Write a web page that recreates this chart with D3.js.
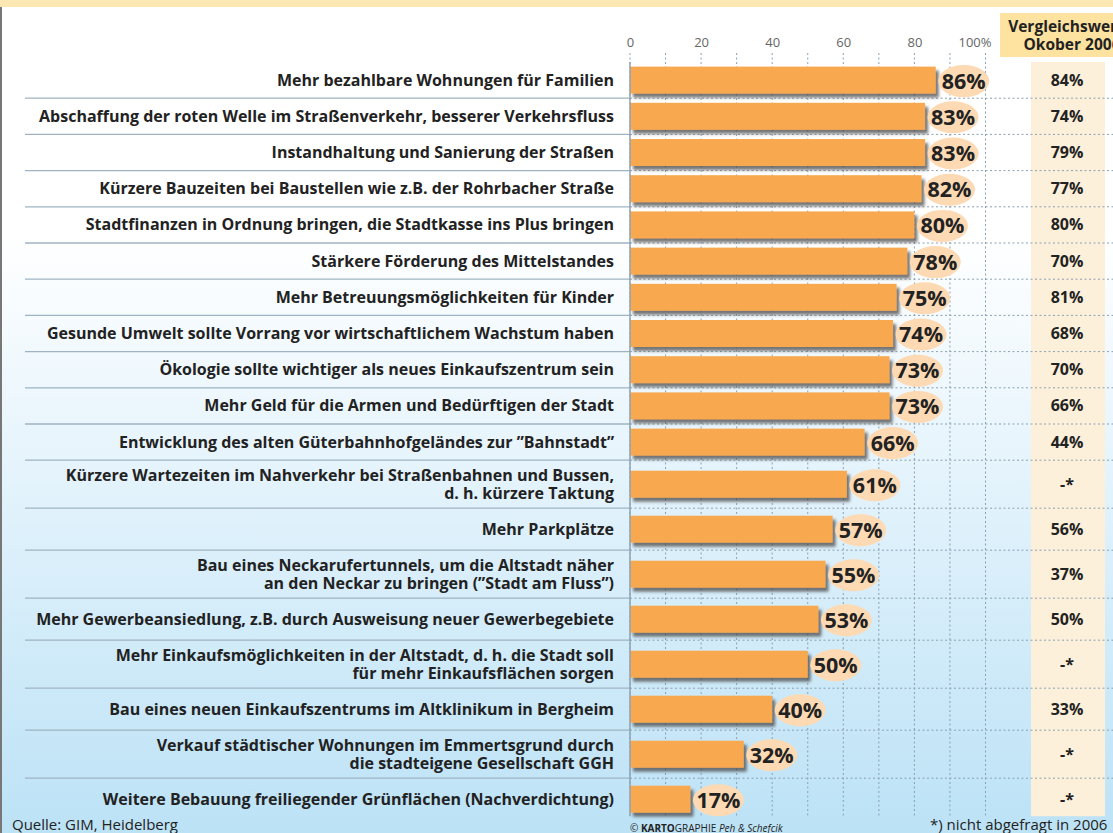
<!DOCTYPE html>
<html>
<head>
<meta charset="utf-8">
<script src="https://cdn.jsdelivr.net/npm/d3@7"></script>
<style>
  body { margin: 0; background: #fff; }
  svg { display: block; font-family: "Open Sans", "Noto Sans", sans-serif; }
</style>
</head>
<body>
<svg id="chart" width="1113" height="833"></svg>
<script>
// survey items (top to bottom), two-line items split with "|"
const items = [
  "Mehr bezahlbare Wohnungen für Familien",
  "Abschaffung der roten Welle im Straßenverkehr, besserer Verkehrsfluss",
  "Instandhaltung und Sanierung der Straßen",
  "Kürzere Bauzeiten bei Baustellen wie z.B. der Rohrbacher Straße",
  "Stadtfinanzen in Ordnung bringen, die Stadtkasse ins Plus bringen",
  "Stärkere Förderung des Mittelstandes",
  "Mehr Betreuungsmöglichkeiten für Kinder",
  "Gesunde Umwelt sollte Vorrang vor wirtschaftlichem Wachstum haben",
  "Ökologie sollte wichtiger als neues Einkaufszentrum sein",
  "Mehr Geld für die Armen und Bedürftigen der Stadt",
  "Entwicklung des alten Güterbahnhofgeländes zur \u201DBahnstadt\u201D",
  "Kürzere Wartezeiten im Nahverkehr bei Straßenbahnen und Bussen,|d. h. kürzere Taktung",
  "Mehr Parkplätze",
  "Bau eines Neckarufertunnels, um die Altstadt näher|an den Neckar zu bringen (\u201DStadt am Fluss\u201D)",
  "Mehr Gewerbeansiedlung, z.B. durch Ausweisung neuer Gewerbegebiete",
  "Mehr Einkaufsmöglichkeiten in der Altstadt, d. h. die Stadt soll|für mehr Einkaufsflächen sorgen",
  "Bau eines neuen Einkaufszentrums im Altklinikum in Bergheim",
  "Verkauf städtischer Wohnungen im Emmertsgrund durch|die stadteigene Gesellschaft GGH",
  "Weitere Bebauung freiliegender Grünflächen (Nachverdichtung)"
];
const values2008 = [86, 83, 83, 82, 80, 78, 75, 74, 73, 73, 66, 61, 57, 55, 53, 50, 40, 32, 17];
// null = not asked in 2006
const values2006 = [84, 74, 79, 77, 80, 70, 81, 68, 70, 66, 44, null, 56, 37, 50, null, 33, null, null];
const xTicks = [0, 20, 40, 60, 80, 100];
const gridTicks = d3.range(0, 101, 10);

const svg = d3.select("#chart");
const W = 1113, H = 833;

// background: yellow strip on top, white to light blue
const defs = svg.append("defs");
const bg = defs.append("linearGradient").attr("id", "bg").attr("x1", 0).attr("y1", 0).attr("x2", 0).attr("y2", 1);
bg.append("stop").attr("offset", "0%").attr("stop-color", "#ffffff");
bg.append("stop").attr("offset", "28%").attr("stop-color", "#ffffff");
bg.append("stop").attr("offset", "55%").attr("stop-color", "#e6f4fc");
bg.append("stop").attr("offset", "100%").attr("stop-color", "#bce2f6");
const shadow = defs.append("filter").attr("id", "shadow").attr("x", "-5%").attr("y", "-30%").attr("width", "115%").attr("height", "170%");
shadow.append("feDropShadow").attr("dx", 3).attr("dy", 4).attr("stdDeviation", 1.8)
  .attr("flood-color", "#4a4a4a").attr("flood-opacity", 0.75);

svg.append("rect").attr("width", W).attr("height", H).attr("fill", "url(#bg)");
svg.append("rect").attr("width", W).attr("height", 7).attr("fill", "#fde8b3");
svg.append("line").attr("x1", 1).attr("x2", 1).attr("y1", 7).attr("y2", H)
  .attr("stroke", "#777").attr("stroke-width", 2);

// row layout: one-line rows in the upper block are tighter
const rowsTop = 62;
const rows = [];
let yy = rowsTop;
items.forEach((txt, i) => {
  const lines = txt.split("|");
  const h = lines.length > 1 ? 48 : (i < 11 ? 36.2 : 42);
  rows.push({ lines, v: values2008[i], c: values2006[i], y0: yy, h, mid: yy + h / 2 });
  yy += h;
});
const rowsBottom = yy;

const x = d3.scaleLinear().domain([0, 100]).range([630, 985.5]);

// comparison column boxes
svg.append("rect").attr("x", 1031).attr("y", rowsTop).attr("width", 74).attr("height", rowsBottom - rowsTop - 4)
  .attr("fill", "#fdf0da");
svg.append("rect").attr("x", 1000).attr("y", 13).attr("width", 120).attr("height", 44)
  .attr("fill", "#fde2a0");
svg.append("text").attr("x", 1066).attr("y", 32).attr("text-anchor", "middle")
  .attr("font-size", 15.5).attr("font-weight", 700).attr("fill", "#222").text("Vergleichswert");
svg.append("text").attr("x", 1072).attr("y", 50).attr("text-anchor", "middle")
  .attr("font-size", 15.5).attr("font-weight", 700).attr("fill", "#222").text("Okober 2006");

// vertical dashed grid
svg.append("g").selectAll("line").data(gridTicks).join("line")
  .attr("x1", d => x(d)).attr("x2", d => x(d))
  .attr("y1", 53).attr("y2", rowsBottom - 4)
  .attr("stroke", "#8aa0b2").attr("stroke-width", 1).attr("stroke-dasharray", "2,2.5");

// row separators: solid on the label side, dashed on the right
const seps = rows.slice(0, -1).map(r => r.y0 + r.h);
svg.append("g").selectAll("line").data(seps).join("line")
  .attr("x1", 25).attr("x2", x(0)).attr("y1", d => d).attr("y2", d => d)
  .attr("stroke", "#9fb3c2").attr("stroke-width", 1.3);
svg.append("g").selectAll("line").data(seps).join("line")
  .attr("x1", x(0)).attr("x2", W).attr("y1", d => d).attr("y2", d => d)
  .attr("stroke", "#8aa0b2").attr("stroke-width", 1).attr("stroke-dasharray", "2,2.5");

// axis labels on top
const axis = d3.axisTop(x).tickValues(xTicks).tickSize(0)
  .tickFormat(d => d === 100 ? "100%" : d);
const ax = svg.append("g").attr("transform", "translate(0,50)").call(axis);
ax.select(".domain").remove();
ax.selectAll("text").attr("font-size", 13).attr("fill", "#666")
  .attr("font-family", "'Open Sans', sans-serif")
  .attr("dx", d => d === 100 ? -11 : 0);

// bars
const g = svg.append("g");
g.selectAll("rect.bar").data(rows).join("rect").attr("class", "bar")
  .attr("x", x(0)).attr("y", d => d.mid - 13.5)
  .attr("width", d => x(d.v) - x(0)).attr("height", 27)
  .attr("fill", "#f8a94f").attr("filter", "url(#shadow)");

// left axis line
svg.append("line").attr("x1", x(0)).attr("x2", x(0)).attr("y1", 62).attr("y2", rowsBottom - 4)
  .attr("stroke", "#8ea3b4").attr("stroke-width", 1.5);

// value bubbles
g.selectAll("ellipse").data(rows).join("ellipse")
  .attr("cx", d => x(d.v) + 28).attr("cy", d => d.mid + 1)
  .attr("rx", 25.5).attr("ry", 16).attr("fill", "#fddab3");
g.selectAll("text.val").data(rows).join("text").attr("class", "val")
  .attr("x", d => x(d.v) + 28).attr("y", d => d.mid + 8.5)
  .attr("text-anchor", "middle").attr("font-size", 21.5).attr("font-weight", 700)
  .attr("fill", "#222").text(d => d.v + "%");

// category labels, one text per line
const labLines = rows.flatMap(d => d.lines.map((ln, k) => ({
  text: ln, y: d.mid + 5.5 + (k - (d.lines.length - 1) / 2) * 18
})));
svg.append("g").selectAll("text").data(labLines).join("text")
  .attr("x", 614).attr("y", d => d.y)
  .attr("text-anchor", "end").attr("font-size", 16).attr("font-weight", 700)
  .attr("fill", "#222").text(d => d.text);

// 2006 comparison values
svg.append("g").selectAll("text").data(rows).join("text")
  .attr("x", 1067).attr("y", d => d.mid + 5.5)
  .attr("text-anchor", "middle").attr("font-size", 16).attr("font-weight", 700)
  .attr("fill", "#222").text(d => d.c === null ? "-*" : d.c + "%");

// footer
svg.append("text").attr("x", 12).attr("y", 830).attr("font-size", 15).attr("fill", "#222")
  .text("Quelle: GIM, Heidelberg");
const cr = svg.append("text").attr("x", 630).attr("y", 832).attr("font-size", 10).attr("fill", "#222");
cr.append("tspan").text("© ");
cr.append("tspan").attr("font-weight", 700).text("KARTO");
cr.append("tspan").text("GRAPHIE ");
cr.append("tspan").attr("font-style", "italic").text("Peh & Schefcik");
svg.append("text").attr("x", 930).attr("y", 830).attr("font-size", 15).attr("fill", "#222")
  .text("*) nicht abgefragt in 2006");
</script>
</body>
</html>
